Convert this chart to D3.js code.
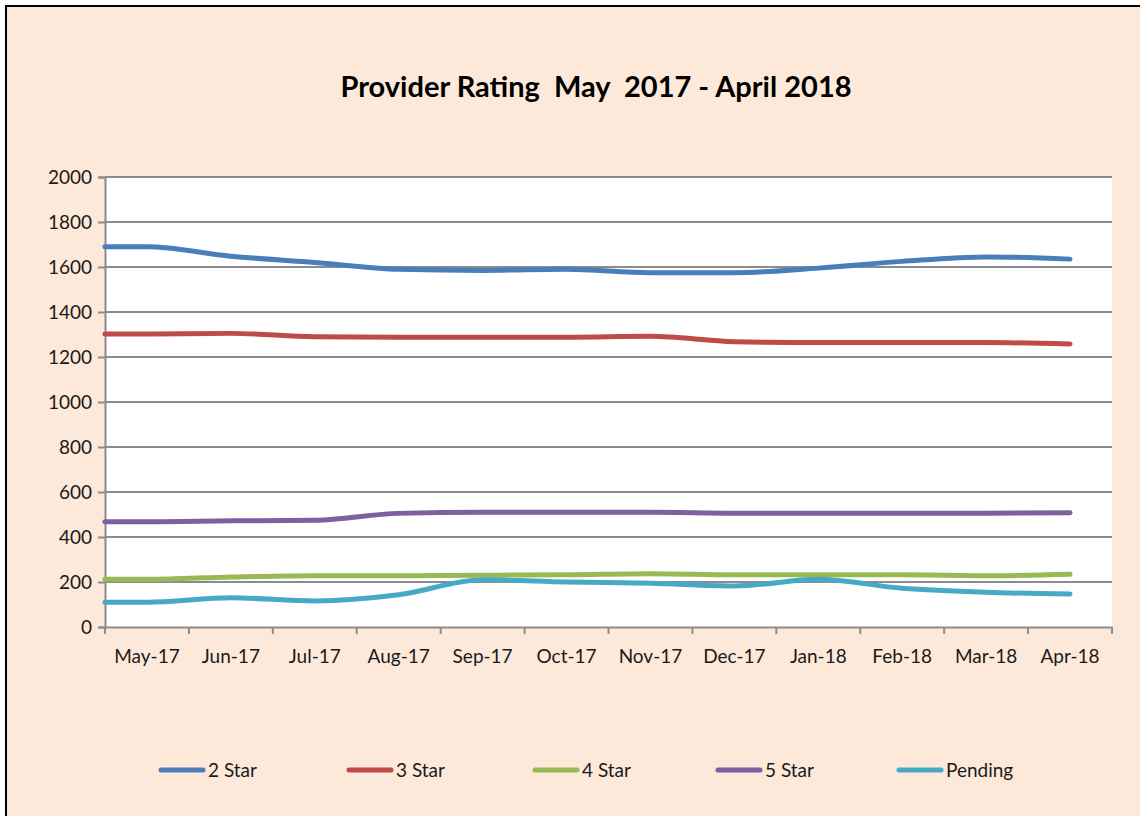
<!DOCTYPE html>
<html>
<head>
<meta charset="utf-8">
<script src="https://cdn.jsdelivr.net/npm/d3@7"></script>
<style>
  body { margin: 0; background: #fff; }
  svg { display: block; }
</style>
</head>
<body>
<svg id="chart"></svg>
<script>
var width = 1140, height = 816;

var months = ['May-17','Jun-17','Jul-17','Aug-17','Sep-17','Oct-17','Nov-17','Dec-17','Jan-18','Feb-18','Mar-18','Apr-18'];
var star2   = [1690, 1648, 1620, 1590, 1585, 1590, 1575, 1575, 1595, 1625, 1645, 1635];
var star3   = [1302, 1305, 1290, 1288, 1288, 1288, 1292, 1268, 1264, 1264, 1264, 1258];
var star4   = [212, 222, 228, 228, 230, 232, 237, 232, 232, 232, 228, 234];
var star5   = [468, 472, 474, 505, 510, 510, 510, 506, 506, 506, 506, 508];
var pending = [110, 130, 116, 143, 210, 200, 194, 182, 212, 172, 154, 147];
var yTicks  = [0, 200, 400, 600, 800, 1000, 1200, 1400, 1600, 1800, 2000];

var series = [
	{name: '2 Star', values: star2, color: '#4a7ebb'},
	{name: '3 Star', values: star3, color: '#be4b48'},
	{name: '4 Star', values: star4, color: '#98b954'},
	{name: '5 Star', values: star5, color: '#7d60a0'},
	{name: 'Pending', values: pending, color: '#46aac5'}
];

var font = 'Lato, "Open Sans", sans-serif';

var svg = d3.select('#chart')
	.attr('width', width)
	.attr('height', height);

// chart frame
svg.append('rect')
	.attr('x', 6).attr('y', 6)
	.attr('width', width + 10).attr('height', height + 10)
	.attr('fill', '#fde9d9')
	.attr('stroke', '#000')
	.attr('stroke-width', 2);

svg.append('text')
	.attr('x', 596).attr('y', 97)
	.attr('text-anchor', 'middle')
	.attr('font-family', font)
	.attr('font-weight', 'bold')
	.attr('font-size', 29)
	.attr('fill', '#000')
	.text('Provider Rating\u00a0 May\u00a0 2017 - April 2018');

var plot = {left: 105, top: 177, right: 1112, bottom: 627};

var x = d3.scaleBand()
	.domain(months)
	.range([plot.left, plot.right]);

var y = d3.scaleLinear()
	.domain([0, 2000])
	.range([plot.bottom, plot.top]);

svg.append('rect')
	.attr('x', plot.left).attr('y', plot.top)
	.attr('width', plot.right - plot.left).attr('height', plot.bottom - plot.top)
	.attr('fill', '#fff');

// gridlines
svg.append('g')
	.selectAll('line')
	.data(yTicks.filter(function(d){return d > 0}))
	.enter()
	.append('line')
		.attr('x1', plot.left).attr('x2', plot.right)
		.attr('y1', function(d){return y(d)})
		.attr('y2', function(d){return y(d)})
		.attr('stroke', '#8c8c8c')
		.attr('stroke-width', 2);

// y axis
var yAxis = svg.append('g')
	.attr('transform', 'translate(' + plot.left + ',0)')
	.call(d3.axisLeft(y).tickValues(yTicks).tickFormat(d3.format('d')).tickSize(7).tickPadding(6));

// x axis
var xAxis = svg.append('g')
	.attr('transform', 'translate(0,' + plot.bottom + ')')
	.call(d3.axisBottom(x).tickSize(0).tickPadding(23));

svg.append('g')
	.selectAll('line')
	.data(months.concat(['end']))
	.enter()
	.append('line')
		.attr('x1', function(d, i){return plot.left + i * x.step()})
		.attr('x2', function(d, i){return plot.left + i * x.step()})
		.attr('y1', plot.bottom).attr('y2', plot.bottom + 7)
		.attr('stroke', '#8c8c8c')
		.attr('stroke-width', 2);

[yAxis, xAxis].forEach(function(a){
	a.select('.domain').attr('stroke', '#8c8c8c').attr('stroke-width', 2);
	a.selectAll('.tick line').attr('stroke', '#8c8c8c').attr('stroke-width', 2);
	a.selectAll('.tick text')
		.attr('font-family', font)
		.attr('font-size', 19)
		.attr('fill', '#1a1a1a');
});

// lines (smoothed, running in from the axis like the original)
var line = d3.line()
	.x(function(d){return d.x})
	.y(function(d){return y(d.v)})
	.curve(d3.curveMonotoneX);

series.forEach(function(s){
	var pts = [{x: plot.left, v: s.values[0]}];
	s.values.forEach(function(v, i){
		pts.push({x: x(months[i]) + x.bandwidth() / 2, v: v});
	});
	svg.append('path')
		.datum(pts)
		.attr('d', line)
		.attr('fill', 'none')
		.attr('stroke', s.color)
		.attr('stroke-width', 5)
		.attr('stroke-linecap', 'round')
		.attr('stroke-linejoin', 'round');
});

// legend
var legendX = [159, 347, 533, 716, 897];
var legend = svg.append('g')
	.selectAll('g')
	.data(series)
	.enter()
	.append('g')
		.attr('transform', function(d, i){return 'translate(' + legendX[i] + ',770)'});

legend.append('line')
	.attr('x1', 2).attr('x2', 44)
	.attr('y1', 0).attr('y2', 0)
	.attr('stroke', function(d){return d.color})
	.attr('stroke-width', 5)
	.attr('stroke-linecap', 'round');

legend.append('text')
	.attr('x', 49).attr('y', 7)
	.attr('font-family', font)
	.attr('font-size', 19)
	.attr('fill', '#1a1a1a')
	.text(function(d){return d.name});
</script>
</body>
</html>
